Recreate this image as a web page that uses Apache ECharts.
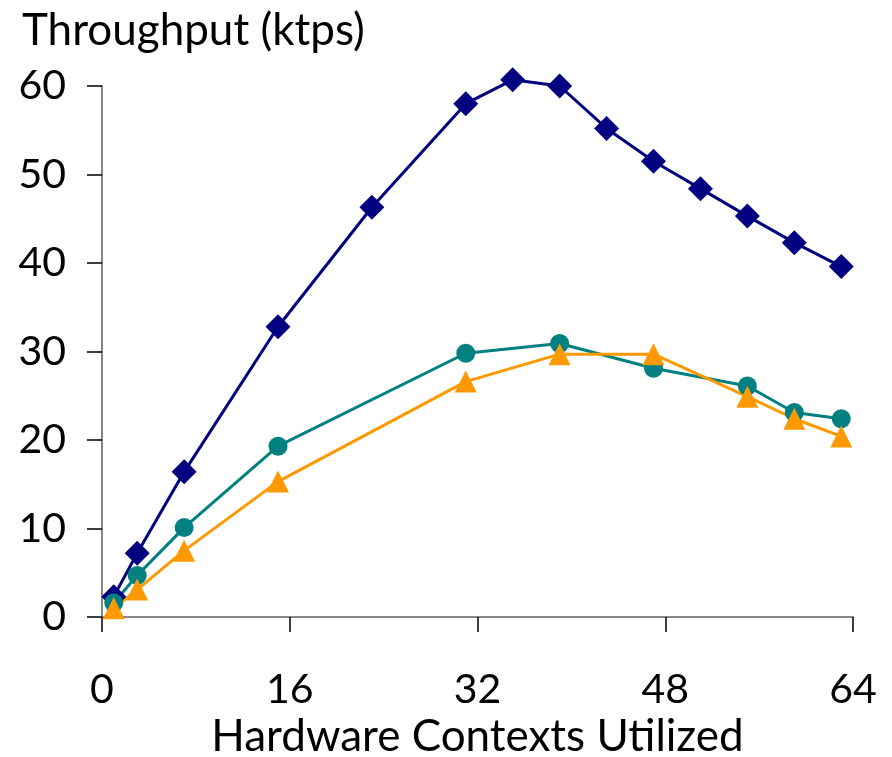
<!DOCTYPE html>
<html>
<head>
<meta charset="utf-8">
<script src="https://cdn.jsdelivr.net/npm/echarts@6/dist/echarts.min.js"></script>
<style>
  html, body { margin: 0; padding: 0; background: #fff; }
  #chart { width: 892px; height: 757px; }
</style>
</head>
<body>
<div id="chart"></div>
<script>
// hardware contexts (x) for each series
const ctxNavy = [1, 3, 7, 15, 23, 31, 35, 39, 43, 47, 51, 55, 59, 63]
const ctxOther = [1, 3, 7, 15, 31, 39, 47, 55, 59, 63]

// throughput in ktps
const navyVals = [2.3, 7.2, 16.4, 32.8, 46.3, 58.0, 60.7, 60.0, 55.2, 51.5, 48.4, 45.3, 42.3, 39.6]
const tealVals = [1.6, 4.7, 10.1, 19.3, 29.8, 30.9, 28.1, 26.1, 23.1, 22.4]
const orangeVals = [1.0, 3.1, 7.5, 15.3, 26.6, 29.7, 29.7, 24.9, 22.4, 20.4]

const zip = (xs, ys) => xs.map((x, i) => [x, ys[i]])

const font = 'Lato, "Open Sans", sans-serif'
const chart = echarts.init(document.getElementById('chart'))

chart.setOption({
    animation: false,
    title: {
        text: 'Throughput (ktps)',
        left: 17,
        top: 4,
        textStyle: { fontFamily: font, fontSize: 44, fontWeight: 'normal', color: '#000' }
    },
    grid: { left: 102, right: 39, top: 86, bottom: 140, outerBoundsMode: 'none', containLabel: false },
    xAxis: {
        type: 'value',
        min: 0,
        max: 64,
        interval: 16,
        name: 'Hardware Contexts Utilized',
        nameLocation: 'middle',
        nameGap: 98,
        nameTextStyle: { fontFamily: font, fontSize: 44, color: '#000' },
        axisLine: { lineStyle: { color: '#868686', width: 2 } },
        axisTick: { length: 15, lineStyle: { color: '#000', width: 1.5 } },
        axisLabel: { fontFamily: font, fontSize: 41, color: '#000', margin: 52 },
        splitLine: { show: false }
    },
    yAxis: {
        type: 'value',
        min: 0,
        max: 60,
        interval: 10,
        axisLine: { show: true, lineStyle: { color: '#868686', width: 2 } },
        axisTick: { show: true, length: 15, lineStyle: { color: '#000', width: 1.5 } },
        axisLabel: { fontFamily: font, fontSize: 41, color: '#000', margin: 36 },
        splitLine: { show: false }
    },
    series: [
        {
            name: 'navy',
            type: 'line',
            clip: false,
            data: zip(ctxNavy, navyVals),
            symbol: 'diamond',
            symbolSize: 25,
            lineStyle: { color: '#000080', width: 3 },
            itemStyle: { color: '#000080' }
        },
        {
            name: 'teal',
            type: 'line',
            clip: false,
            data: zip(ctxOther, tealVals),
            symbol: 'circle',
            symbolSize: 19,
            lineStyle: { color: '#008080', width: 3 },
            itemStyle: { color: '#008080' }
        },
        {
            name: 'orange',
            type: 'line',
            clip: false,
            data: zip(ctxOther, orangeVals),
            symbol: 'triangle',
            symbolSize: 22,
            lineStyle: { color: '#FF9900', width: 3 },
            itemStyle: { color: '#FF9900' }
        }
    ]
})
</script>
</body>
</html>
